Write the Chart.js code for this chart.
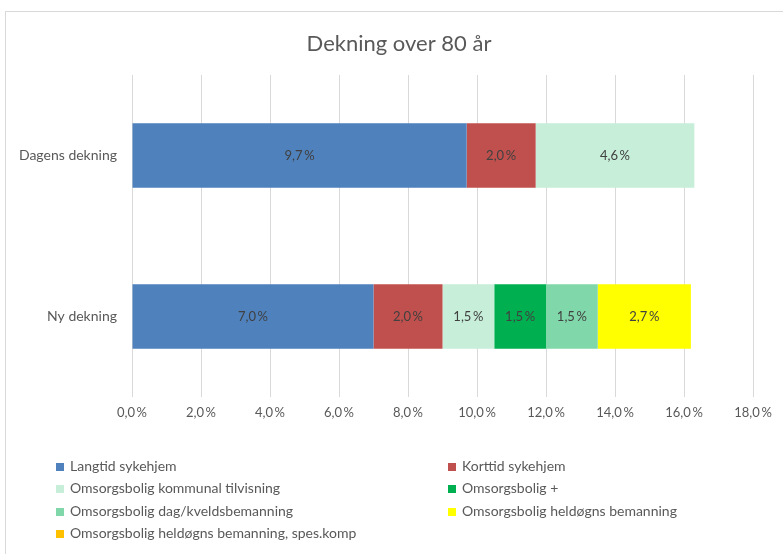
<!DOCTYPE html>
<html>
<head>
<meta charset="utf-8">
<script src="https://cdn.jsdelivr.net/npm/chart.js"></script>
<style>
  body { margin: 0; background: #fff; font-family: Lato, sans-serif; }
  #ramme { position: absolute; left: 5px; top: 11px; width: 800px; height: 560px; border: 1px solid #d9d9d9; }
  #wrap { position: absolute; left: 0; top: 0; width: 783px; height: 554px; }
  #legende { position: absolute; left: 55px; top: 457px; width: 700px; display: grid;
    grid-template-columns: 392px 300px; row-gap: 4.3px; color: #595959; font-size: 14px; }
  .rad { height: 18px; line-height: 18px; white-space: nowrap; }
  .rute { display: inline-block; width: 8px; height: 8px; margin-right: 6px; margin-left: 1px; vertical-align: 0px; }
</style>
</head>
<body>
<div id="ramme"></div>
<div id="wrap"><canvas id="chartId" width="783" height="554"></canvas></div>
<div id="legende"></div>
<script>
var tittel = "Dekning over 80 år";
var kategorier = ["Dagens dekning", "Ny dekning"];
var langtid = [9.7, 7.0];
var korttid = [2.0, 2.0];
var kommunal = [4.6, 1.5];
var omsPluss = [0, 1.5];
var dagKveld = [0, 1.5];
var heldogn = [0, 2.7];
var spesKomp = [0, 0];

var serier = [
  { navn: "Langtid sykehjem", data: langtid, farge: "#4f81bd" },
  { navn: "Korttid sykehjem", data: korttid, farge: "#c0504d" },
  { navn: "Omsorgsbolig kommunal tilvisning", data: kommunal, farge: "#c6eed9" },
  { navn: "Omsorgsbolig +", data: omsPluss, farge: "#00b050" },
  { navn: "Omsorgsbolig dag/kveldsbemanning", data: dagKveld, farge: "#80d7a9" },
  { navn: "Omsorgsbolig heldøgns bemanning", data: heldogn, farge: "#ffff00" },
  { navn: "Omsorgsbolig heldøgns bemanning, spes.komp", data: spesKomp, farge: "#ffc000" }
];

function prosent(v) {
  return v.toFixed(1).replace(".", ",") + "\u2009%";
}

// tall midt i hver bit av stolpen
var verdiTekst = {
  id: "verdiTekst",
  afterDatasetsDraw: function (chart) {
    var ctx = chart.ctx;
    ctx.save();
    ctx.font = "13px Lato";
    ctx.fillStyle = "#404040";
    ctx.textAlign = "center";
    ctx.textBaseline = "middle";
    chart.data.datasets.forEach(function (ds, i) {
      var meta = chart.getDatasetMeta(i);
      meta.data.forEach(function (bar, j) {
        var v = ds.data[j];
        if (!v) return;
        var p = bar.getProps(["x", "y", "base"], true);
        ctx.fillText(prosent(v), (p.x + p.base) / 2, p.y);
      });
    });
    ctx.restore();
  }
};

// tittel midt i rammen (ikke midt i plottet)
var tittelTegner = {
  id: "tittelTegner",
  afterDraw: function (chart) {
    var ctx = chart.ctx;
    ctx.save();
    ctx.font = "22px Lato";
    ctx.fillStyle = "#595959";
    ctx.textAlign = "center";
    ctx.textBaseline = "middle";
    ctx.fillText(tittel, 399, 44);
    ctx.restore();
  }
};

var chrt = document.getElementById("chartId").getContext("2d");
var chartId = new Chart(chrt, {
  type: "bar",
  data: {
    labels: kategorier,
    datasets: serier.map(function (s) {
      return {
        label: s.navn,
        data: s.data,
        backgroundColor: s.farge,
        categoryPercentage: 1,
        barPercentage: 0.4
      };
    })
  },
  options: {
    indexAxis: "y",
    responsive: false,
    animation: false,
    layout: { padding: { top: 75, left: 0, right: 30, bottom: 127 } },
    plugins: {
      legend: { display: false },
      tooltip: { enabled: false },
      title: { display: false }
    },
    scales: {
      x: {
        stacked: true,
        min: 0,
        max: 18,
        afterFit: function (s) { s.height = 30; },
        border: { display: false },
        grid: { color: "#d9d9d9", drawTicks: false },
        ticks: {
          stepSize: 2,
          padding: 8,
          color: "#595959",
          font: { family: "Lato", size: 13 },
          callback: function (v) { return prosent(v); }
        }
      },
      y: {
        stacked: true,
        afterFit: function (s) { s.width = 132; },
        border: { display: false },
        grid: { display: false },
        ticks: {
          padding: 7,
          color: "#595959",
          font: { family: "Lato", size: 14 }
        }
      }
    }
  },
  plugins: [verdiTekst, tittelTegner]
});

var legende = document.getElementById("legende");
serier.forEach(function (s) {
  var rad = document.createElement("div");
  rad.className = "rad";
  var rute = document.createElement("span");
  rute.className = "rute";
  rute.style.background = s.farge;
  rad.appendChild(rute);
  rad.appendChild(document.createTextNode(s.navn));
  legende.appendChild(rad);
});
</script>
</body>
</html>
